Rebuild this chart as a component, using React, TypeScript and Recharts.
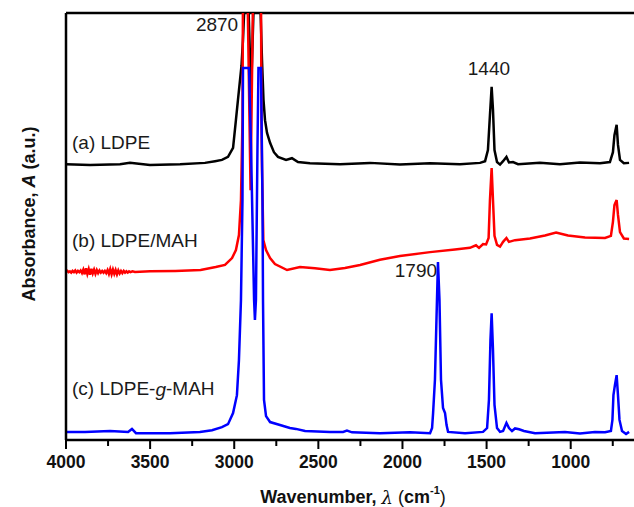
import React from 'react';
import { LineChart, Line, XAxis, YAxis, ReferenceLine, ReferenceDot } from 'recharts';

// wavenumber (cm-1), absorbance (a.u., offset)
const ldpe: [number, number][] = [
  [4000, 64.6], [3857, 64.4], [3679, 64.6], [3620, 64.9], [3501, 64.4], [3322, 64.6], [3174, 64.9],
  [3114, 65.3], [3073, 65.6], [3037, 66.3], [3007, 68.4], [2990, 74.9], [2978, 79.6], [2957, 87.6],
  [2948, 93.7], [2936, 105], [2918, 105], [2900, 81.3], [2882, 105], [2847, 105], [2835, 89.0],
  [2826, 79.6], [2817, 74.9], [2805, 71.9], [2787, 69.6], [2764, 67.4], [2740, 66.3], [2692, 65.6],
  [2657, 66.0], [2621, 65.1], [2550, 64.8], [2371, 64.6], [2193, 64.9], [2015, 64.5], [1836, 64.8],
  [1658, 64.6], [1539, 64.9], [1509, 65.3], [1492, 67.9], [1480, 76.1], [1470, 82.7], [1462, 77.3],
  [1453, 67.9], [1438, 65.1], [1420, 64.5], [1402, 65.3], [1382, 66.3], [1367, 65.0], [1343, 65.1],
  [1313, 64.6], [1183, 64.9], [1064, 64.6], [945, 65.0], [826, 64.8], [767, 65.1], [749, 67.4],
  [740, 71.4], [727, 73.8], [719, 69.1], [707, 65.6], [684, 64.8], [653, 64.9],
];

const ldpeMah: [number, number][] = [
  [4000, 39.4], [3992, 39.6], [3985, 39.3], [3977, 39.5], [3969, 39.2], [3961, 39.6], [3953, 39.3],
  [3945, 39.7], [3937, 39.2], [3929, 39.6], [3921, 39.3], [3913, 39.7], [3905, 39.1], [3897, 39.9],
  [3889, 38.8], [3881, 40.2], [3873, 38.9], [3865, 40.0], [3857, 38.7], [3849, 40.1], [3841, 39.0],
  [3833, 39.9], [3825, 38.9], [3817, 39.8], [3809, 39.1], [3801, 39.7], [3793, 39.2], [3785, 39.6],
  [3777, 39.2], [3769, 39.6], [3761, 39.1], [3753, 39.8], [3745, 38.9], [3737, 40.0], [3729, 38.8],
  [3721, 39.9], [3713, 38.9], [3705, 39.8], [3697, 38.8], [3689, 39.7], [3681, 39.0], [3673, 39.6],
  [3665, 39.1], [3657, 39.6], [3649, 39.2], [3641, 39.5], [3633, 39.2], [3625, 39.5], [3617, 39.3],
  [3605, 39.5], [3590, 39.35],
  [3500, 39.5], [3350, 39.6], [3200, 39.8], [3110, 40.5], [3055, 41.0], [3013, 42.6], [2990, 44.5],
  [2972, 48.0], [2960, 56.2], [2951, 74.9], [2948, 105], [2921, 105], [2903, 58.5], [2888, 105],
  [2841, 105], [2838, 74.9], [2835, 63.9], [2827, 46.8], [2811, 44.5], [2787, 42.6], [2758, 41.2],
  [2686, 39.8], [2609, 40.5], [2520, 40.2], [2431, 39.8], [2342, 40.3], [2252, 41.0], [2134, 42.2],
  [2015, 43.1], [1836, 44.0], [1688, 44.6], [1599, 45.0], [1563, 45.6], [1545, 45.0], [1521, 45.9],
  [1503, 45.8], [1488, 47.3], [1480, 56.2], [1470, 63.7], [1462, 56.2], [1453, 47.8], [1438, 45.7],
  [1420, 45.3], [1402, 46.4], [1382, 47.3], [1367, 46.4], [1331, 46.8], [1242, 47.2], [1153, 47.9],
  [1087, 48.6], [1016, 47.9], [915, 47.4], [796, 47.3], [761, 47.8], [749, 51.1], [740, 55.0],
  [727, 56.2], [719, 52.7], [707, 48.7], [684, 47.2], [653, 47.1],
];

const ldpeGMah: [number, number][] = [
  [4000, 1.9], [3887, 1.9], [3738, 2.1], [3631, 1.9], [3608, 2.6], [3584, 1.6], [3382, 1.6],
  [3204, 1.9], [3132, 2.3], [3073, 3.0], [3037, 3.7], [3007, 6.3], [2984, 10.5], [2972, 18.7],
  [2960, 32.8], [2951, 56.2], [2948, 87.1], [2912, 87.1], [2900, 67.9], [2882, 32.8], [2877, 28.1],
  [2871, 32.8], [2862, 67.9], [2856, 87.1], [2841, 87.1], [2832, 56.2], [2829, 32.8], [2823, 9.4],
  [2811, 5.6], [2787, 4.2], [2728, 3.5], [2669, 2.8], [2633, 2.6], [2579, 2.1], [2431, 1.9],
  [2353, 1.9], [2330, 2.2], [2300, 1.8], [2134, 1.6], [1955, 1.8], [1836, 1.6], [1824, 2.8],
  [1818, 6.3], [1807, 14.1], [1798, 28.1], [1789, 41.7], [1780, 32.8], [1771, 14.1], [1759, 7.5],
  [1747, 6.3], [1738, 3.5], [1729, 1.9], [1628, 1.6], [1521, 1.9], [1497, 2.8], [1486, 9.4],
  [1477, 23.4], [1470, 29.7], [1462, 21.1], [1453, 8.2], [1438, 2.8], [1420, 1.9], [1402, 2.1],
  [1382, 4.0], [1367, 2.8], [1349, 2.1], [1331, 2.7], [1307, 2.5], [1278, 2.1], [1212, 1.6],
  [1034, 1.9], [945, 1.5], [856, 1.9], [796, 1.8], [761, 2.1], [752, 4.7], [746, 10.5], [737, 12.9],
  [727, 15.2], [719, 10.5], [710, 4.7], [695, 2.1], [671, 1.4], [653, 1.9],
];

const xTicks = [4000, 3750, 3500, 3250, 3000, 2750, 2500, 2250, 2000, 1750, 1500, 1250, 1000, 750];

const toRows = (arr: [number, number][]) => arr.map(([w, a]) => ({ w, a }));

const FONT = '"Liberation Sans", Arial, Helvetica, sans-serif';

const XTick = (props: any) => {
  const { x, y, payload } = props;
  const major = payload.value % 500 === 0;
  return (
    <g>
      <line x1={x} x2={x} y1={y} y2={y + (major ? 9 : 6)} stroke="#000" strokeWidth={2} />
      {major && (
        <text x={x} y={y + 28} textAnchor="middle" fontWeight="bold" fontSize={17.5} fill="#111">
          {payload.value}
        </text>
      )}
    </g>
  );
};

const note = (text: React.ReactNode, anchor: 'start' | 'middle') => (p: any) => (
  <text x={p.cx} y={p.cy} textAnchor={anchor} dominantBaseline="central" fontSize={19} fill="#1a1a1a">
    {text}
  </text>
);

export default function App() {
  return (
    <div style={{ position: 'absolute', left: 0, top: 0, width: 634, height: 507, overflow: 'hidden', background: '#fff' }}>
      <LineChart width={638} height={507} margin={{ top: 13, right: 0, left: 0, bottom: 0 }} style={{ fontFamily: FONT }}>
        <XAxis
          dataKey="w"
          type="number"
          domain={[600, 4000]}
          reversed
          allowDataOverflow
          ticks={xTicks}
          interval={0}
          tick={<XTick />}
          tickLine={false}
          tickSize={0}
          tickMargin={0}
          height={67}
          axisLine={{ stroke: '#000', strokeWidth: 2.5 }}
          label={{
            content: () => (
              <text x={353} y={497} textAnchor="middle" dominantBaseline="central" fontSize={18} fontWeight="bold" fill="#111">
                Wavenumber, <tspan fontStyle="italic" fontFamily="DejaVu Serif" fontWeight="normal">λ</tspan>
                <tspan fontWeight="normal"> (</tspan>cm<tspan fontSize={11} dy={-7}>-1</tspan>
                <tspan dy={7} fontWeight="normal">)</tspan>
              </text>
            ),
          }}
        />
        <YAxis
          type="number"
          domain={[0, 100]}
          allowDataOverflow
          width={66}
          tick={false}
          tickLine={false}
          axisLine={{ stroke: '#000', strokeWidth: 2.5 }}
          label={{
            content: () => (
              <text
                x={29}
                y={214}
                transform="rotate(-90, 29, 214)"
                textAnchor="middle"
                dominantBaseline="central"
                fontSize={18}
                fontWeight="bold"
                fill="#111"
              >
                Absorbance, <tspan fontStyle="italic">A</tspan> (a.u.)
              </text>
            ),
          }}
        />
        <ReferenceLine y={100} stroke="#000" strokeWidth={2.5} />
        <Line data={toRows(ldpe)} dataKey="a" stroke="#000000" strokeWidth={2.5} dot={false} isAnimationActive={false} />
        <Line data={toRows(ldpeMah)} dataKey="a" stroke="#ff0000" strokeWidth={2.5} dot={false} isAnimationActive={false} />
        <Line data={toRows(ldpeGMah)} dataKey="a" stroke="#0000ff" strokeWidth={2.5} dot={false} isAnimationActive={false} />
        <ReferenceDot x={3102} y={97.2} r={0} shape={note('2870', 'middle')} />
        <ReferenceDot x={1486} y={86.9} r={0} shape={note('1440', 'middle')} />
        <ReferenceDot x={1920} y={39.7} r={0} shape={note('1790', 'middle')} />
        <ReferenceDot x={3964} y={69.7} r={0} shape={note('(a) LDPE', 'start')} />
        <ReferenceDot x={3964} y={46.7} r={0} shape={note('(b) LDPE/MAH', 'start')} />
        <ReferenceDot
          x={3964}
          y={12.0}
          r={0}
          shape={note(<>(c) LDPE-<tspan fontStyle="italic">g</tspan>-MAH</>, 'start')}
        />
      </LineChart>
    </div>
  );
}
